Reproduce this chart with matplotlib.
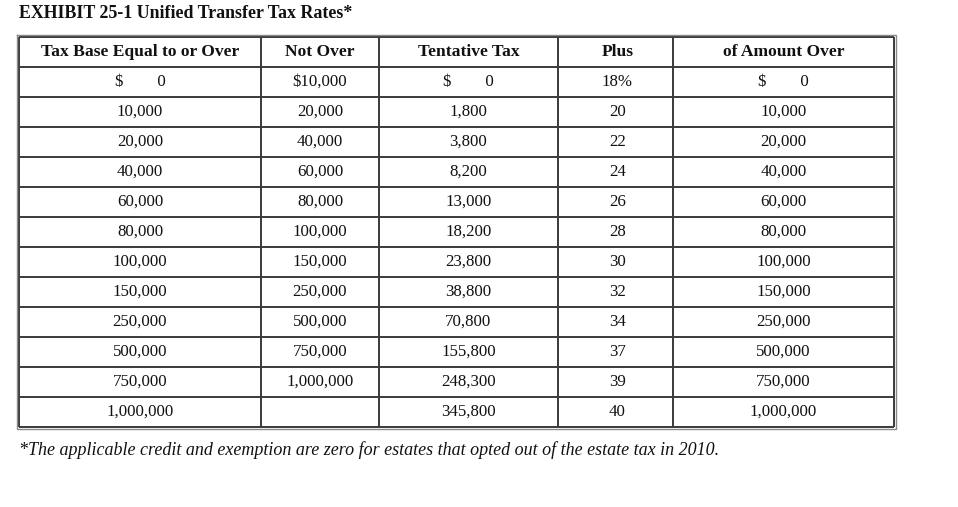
import matplotlib
matplotlib.use("Agg")
import matplotlib.pyplot as plt

title = "EXHIBIT 25-1 Unified Transfer Tax Rates*"
headers = ["Tax Base Equal to or Over", "Not Over", "Tentative Tax", "Plus", "of Amount Over"]
tax_base = [0, 10000, 20000, 40000, 60000, 80000, 100000, 150000, 250000, 500000, 750000, 1000000]
not_over = [10000, 20000, 40000, 60000, 80000, 100000, 150000, 250000, 500000, 750000, 1000000, None]
tentative_tax = [0, 1800, 3800, 8200, 13000, 18200, 23800, 38800, 70800, 155800, 248300, 345800]
plus_rate = [18, 20, 22, 24, 26, 28, 30, 32, 34, 37, 39, 40]
amount_over = [0, 10000, 20000, 40000, 60000, 80000, 100000, 150000, 250000, 500000, 750000, 1000000]
footnote = "*The applicable credit and exemption are zero for estates that opted out of the estate tax in 2010."

W, H = 958, 507
fig = plt.figure(figsize=(W / 100, H / 100), dpi=100)
ax = fig.add_axes([0, 0, 1, 1])
ax.set_xlim(0, W)
ax.set_ylim(H, 0)
ax.axis("off")

serif = ["Liberation Serif", "DejaVu Serif"]
col_edges = [19, 261, 379, 558, 673, 894]
top = 37
row_h = 30
n_rows = len(tax_base) + 1
bottom = top + row_h * n_rows
cell_fs = 12.2
head_fs = 12.6
zero_dollar = "$        0"

def fmt(v, first):
    if v is None:
        return ""
    if first:
        if v == 0:
            return zero_dollar
        return "${:,}".format(v)
    return "{:,}".format(v)

rows = []
for i in range(len(tax_base)):
    first = i == 0
    rows.append([
        fmt(tax_base[i], first),
        fmt(not_over[i], first),
        (zero_dollar if first else "{:,}".format(tentative_tax[i])),
        (f"{plus_rate[i]}%" if first else f"{plus_rate[i]}"),
        fmt(amount_over[i], first),
    ])

# title
ax.text(19, 14, title, fontsize=12.9, fontweight="bold", family=serif,
        ha="left", va="center", color="#111111")

# grid lines
inner = "#3a3a3a"
for j, x in enumerate(col_edges):
    ax.plot([x, x], [top, bottom], color=inner, lw=1.4, solid_capstyle="butt")
for r in range(n_rows + 1):
    y = top + r * row_h
    ax.plot([col_edges[0], col_edges[-1]], [y, y], color=inner, lw=1.4, solid_capstyle="butt")
# outer frame
ax.plot([col_edges[0] - 2, col_edges[-1] + 2, col_edges[-1] + 2, col_edges[0] - 2, col_edges[0] - 2],
        [top - 2, top - 2, bottom + 2, bottom + 2, top - 2], color="#8a8a8a", lw=1.0)

centers = [(col_edges[k] + col_edges[k + 1]) / 2 for k in range(5)]
centers[3] += 2

for k, h in enumerate(headers):
    ax.text(centers[k], top + row_h / 2, h, fontsize=head_fs, fontweight="bold", family=serif,
            ha="center", va="center", color="#111111")

for r, row in enumerate(rows):
    y = top + row_h * (r + 1) + row_h / 2
    for k, t in enumerate(row):
        ax.text(centers[k], y, t, fontsize=cell_fs, family=serif, ha="center", va="center",
                color="#111111")

ax.text(19, bottom + 23, footnote, fontsize=12.95, family=serif, style="italic",
        ha="left", va="center", color="#111111")

fig.savefig("out.png", dpi=100, facecolor="white")
